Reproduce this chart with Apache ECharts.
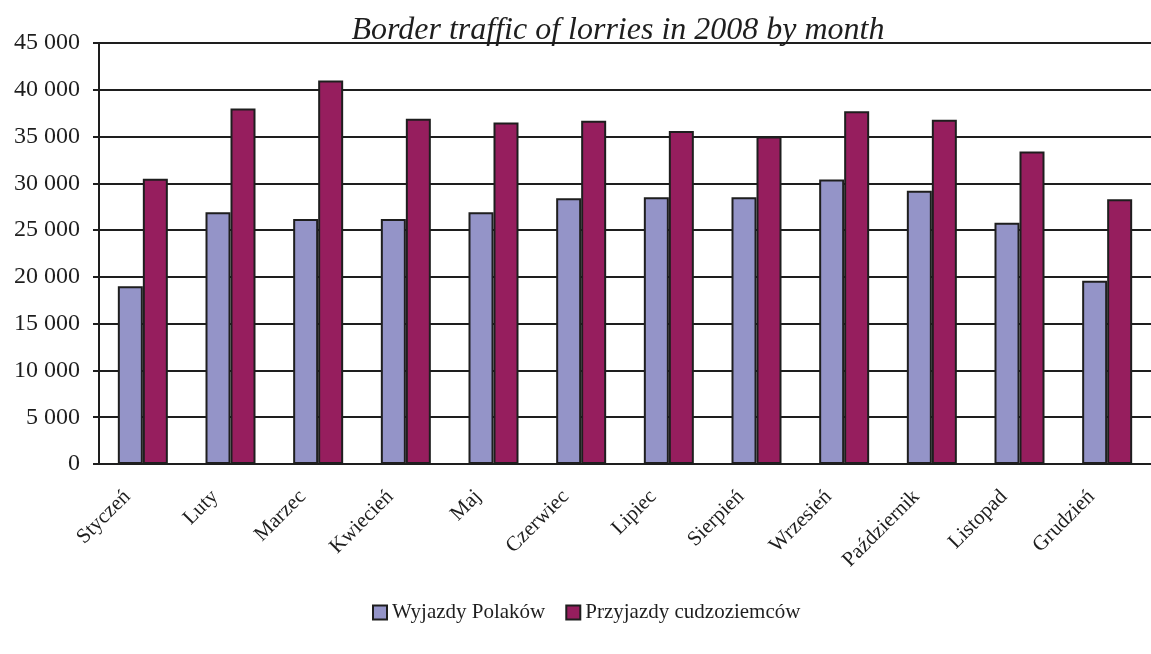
<!DOCTYPE html>
<html>
<head>
<meta charset="utf-8">
<script src="https://cdn.jsdelivr.net/npm/echarts@6/dist/echarts.min.js"></script>
<style>
  html, body { margin: 0; padding: 0; background: #fff; }
  #chart { width: 1151px; height: 654px; }
</style>
</head>
<body>
<div id="chart"></div>
<script>
// months of 2008
const months = ['Styczeń', 'Luty', 'Marzec', 'Kwiecień', 'Maj', 'Czerwiec', 'Lipiec', 'Sierpień', 'Wrzesień', 'Październik', 'Listopad', 'Grudzień']
const seriesNames = ['Wyjazdy Polaków', 'Przyjazdy cudzoziemców']
// values
const polesOut = [19000, 26900, 26200, 26200, 26900, 28400, 28500, 28500, 30400, 29200, 25800, 19600]
const foreignIn = [30500, 38000, 41000, 36900, 36500, 36700, 35600, 35000, 37700, 36800, 33400, 28300]

const serif = '"Liberation Serif", "DejaVu Serif", serif'
const ink = '#1e1e1e'

const fmt = v => String(v).replace(/\B(?=(\d{3})+(?!\d))/g, ' ')

const chart = echarts.init(document.getElementById('chart'))
chart.setOption({
  animation: false,
  title: {
    text: 'Border traffic of lorries in 2008 by month',
    left: 613, top: 10, textAlign: 'center',
    textStyle: { fontFamily: serif, fontStyle: 'italic', fontWeight: 'normal', fontSize: 32, color: ink }
  },
  legend: {
    data: seriesNames, left: 367, top: 597, icon: 'rect',
    itemWidth: 14, itemHeight: 14, itemGap: 20,
    textStyle: { fontFamily: serif, fontSize: 21, color: ink }
  },
  grid: { left: 99, top: 43, width: 1056, height: 421, containLabel: false },
  xAxis: {
    type: 'category', data: months,
    axisLine: { lineStyle: { color: ink, width: 2 } },
    axisTick: { length: 6, lineStyle: { color: ink, width: 2 } },
    axisLabel: { rotate: 45, interval: 0, margin: 14, padding: [0, 22, 0, 0], fontFamily: serif, fontSize: 21, color: ink }
  },
  yAxis: {
    type: 'value', min: 0, max: 45000, interval: 5000,
    axisLine: { show: true, lineStyle: { color: ink, width: 2 } },
    axisTick: { show: true, length: 6, lineStyle: { color: ink, width: 2 } },
    splitLine: { lineStyle: { color: ink, width: 2 } },
    axisLabel: { margin: 19, fontFamily: serif, fontSize: 24, color: ink, formatter: fmt }
  },
  series: [
    { name: seriesNames[0], type: 'bar', data: polesOut, barWidth: 25, barGap: '0%',
      itemStyle: { color: '#9494c8', borderColor: ink, borderWidth: 2 } },
    { name: seriesNames[1], type: 'bar', data: foreignIn, barWidth: 25, barGap: '0%',
      itemStyle: { color: '#961e5e', borderColor: ink, borderWidth: 2 } }
  ]
})
</script>
</body>
</html>
